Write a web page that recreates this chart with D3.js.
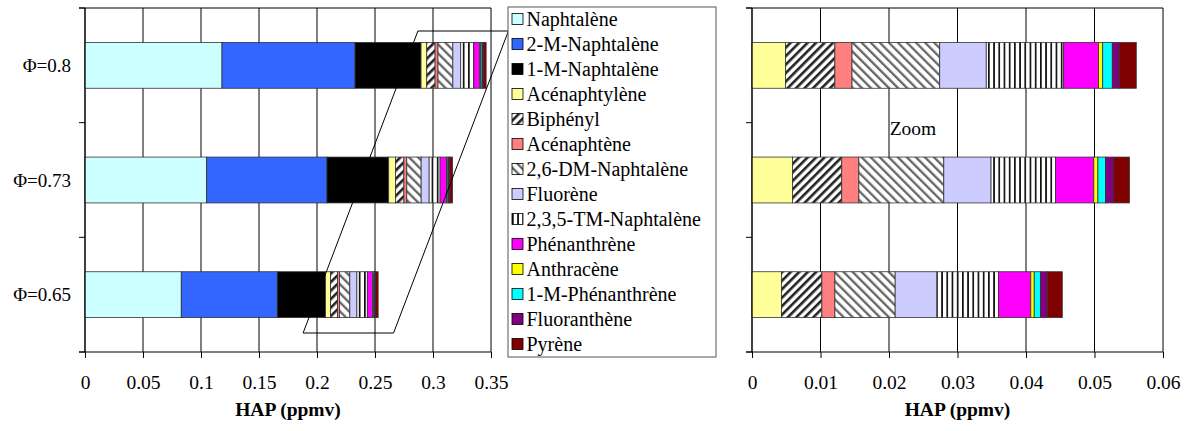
<!DOCTYPE html>
<html>
<head>
<meta charset="utf-8">
<script src="https://cdn.jsdelivr.net/npm/d3@7"></script>
<style>
  body { margin: 0; background: #fff; }
  svg text { font-family: "Liberation Serif", Tinos, "Times New Roman", Times, "DejaVu Serif", "Noto Serif", serif !important; fill: #000; }
</style>
</head>
<body>
<svg id="chart" width="1188" height="431"></svg>
<script>
// categories (top to bottom)
var categories = ["Φ=0.8", "Φ=0.73", "Φ=0.65"];

// HAP species, in stacking order
var species = ["Naphtalène", "2-M-Naphtalène", "1-M-Naphtalène", "Acénaphtylène", "Biphényl",
    "Acénaphtène", "2,6-DM-Naphtalène", "Fluorène", "2,3,5-TM-Naphtalène", "Phénanthrène",
    "Anthracène", "1-M-Phénanthrène", "Fluoranthène", "Pyrène"];

// values in ppmv, one array per category, same order as species
var phi080 = [0.1181, 0.1147, 0.0569, 0.0049, 0.0072, 0.0025, 0.0128, 0.0068, 0.0113, 0.0051, 0.0006, 0.0014, 0.0010, 0.0025];
var phi073 = [0.1049, 0.1037, 0.0532, 0.0059, 0.0072, 0.0025, 0.0124, 0.0069, 0.0094, 0.0056, 0.0006, 0.0011, 0.0012, 0.0023];
var phi065 = [0.0830, 0.0828, 0.0416, 0.0043, 0.0059, 0.0019, 0.0088, 0.0061, 0.0090, 0.0047, 0.0005, 0.0009, 0.0010, 0.0022];

var xTicksLeft = [0, 0.05, 0.1, 0.15, 0.2, 0.25, 0.3, 0.35];
var xTicksRight = [0, 0.01, 0.02, 0.03, 0.04, 0.05, 0.06];

// fills: plain colours, or pattern ids
var fills = ["#ccffff", "#3366ff", "#000000", "#ffff99", "url(#pBiph)", "#ff8080", "url(#pDM)",
    "#ccccff", "url(#pTM)", "#ff00ff", "#ffff00", "#00ffff", "#800080", "#800000"];

var rows = [phi080, phi073, phi065];

var svg = d3.select("#chart");

// patterns
var defs = svg.append("defs");
function stripes(id, w, sw, color, angle) {
    var p = defs.append("pattern")
        .attr("id", id)
        .attr("patternUnits", "userSpaceOnUse")
        .attr("width", w).attr("height", w)
        .attr("patternTransform", "rotate(" + angle + ")");
    p.append("rect").attr("width", w).attr("height", w).attr("fill", "#fff");
    p.append("rect").attr("width", sw).attr("height", w).attr("fill", color);
}
stripes("pBiph", 6, 2.6, "#222", 45);
stripes("pDM", 6.4, 2.3, "#666", -45);
stripes("pTM", 5.2, 1.7, "#111", 0);

// stacked segments for a given row, starting at species index "from"
function segments(row, from) {
    var out = [];
    var acc = 0;
    for (var i = from; i < row.length; i++) {
        out.push({ i: i, x0: acc, x1: acc + row[i] });
        acc += row[i];
    }
    return out;
}

function drawPanel(opt) {
    var x = d3.scaleLinear().domain(opt.domain).range([opt.left, opt.right]);
    var y = d3.scaleBand().domain(categories).range([opt.top, opt.bottom])
        .paddingInner(0.6).paddingOuter(0.3);

    var g = svg.append("g");

    // vertical gridlines
    g.selectAll(".grid")
        .data(opt.ticks)
        .enter().append("line")
        .attr("x1", function (d) { return x(d); })
        .attr("x2", function (d) { return x(d); })
        .attr("y1", opt.top).attr("y2", opt.bottom)
        .attr("stroke", "#000").attr("stroke-width", 1);

    // top border
    g.append("line")
        .attr("x1", opt.left - 6).attr("x2", opt.right)
        .attr("y1", opt.top).attr("y2", opt.top)
        .attr("stroke", "#000");

    // bars
    g.selectAll(".bar")
        .data(rows)
        .enter().append("g")
        .attr("transform", function (d, k) { return "translate(0," + y(categories[k]) + ")"; })
        .selectAll("rect")
        .data(function (d) { return segments(d, opt.from); })
        .enter().append("rect")
        .attr("x", function (d) { return x(d.x0); })
        .attr("width", function (d) { return x(d.x1) - x(d.x0); })
        .attr("height", y.bandwidth())
        .attr("fill", function (d) { return fills[d.i]; })
        .attr("stroke", "#333")
        .attr("stroke-width", 0.8);

    // x axis
    var xAxis = g.append("g")
        .attr("transform", "translate(0," + opt.bottom + ")")
        .call(d3.axisBottom(x).tickValues(opt.ticks).tickSize(6).tickPadding(17)
            .tickFormat(function (d) { return String(+d.toFixed(3)); }));
    xAxis.select(".domain").attr("d", "M" + (opt.left - 6) + ",0H" + opt.right).attr("stroke", "#000");
    xAxis.selectAll("text").style("font-size", "19.5px");

    // y axis: ticks on band boundaries
    var bounds = [opt.top];
    categories.forEach(function (c) { bounds.push(y(c) + y.bandwidth() + y.step() * 0.3); });
    g.selectAll(".ytick")
        .data(bounds)
        .enter().append("line")
        .attr("x1", opt.left - 6).attr("x2", opt.left)
        .attr("y1", function (d) { return d; }).attr("y2", function (d) { return d; })
        .attr("stroke", "#000");
    g.append("line")
        .attr("x1", opt.left).attr("x2", opt.left)
        .attr("y1", opt.top).attr("y2", opt.bottom)
        .attr("stroke", "#000");

    if (opt.labels) {
        g.selectAll(".ylab")
            .data(categories)
            .enter().append("text")
            .attr("x", opt.left - 14)
            .attr("y", function (d) { return y(d) + y.bandwidth() / 2; })
            .attr("dy", "0.35em")
            .attr("text-anchor", "end")
            .style("font-size", "19px")
            .text(function (d) { return d; });
    }

    // axis title
    g.append("text")
        .attr("x", (opt.left + opt.right) / 2)
        .attr("y", 416)
        .attr("text-anchor", "middle")
        .style("font-size", "19.5px")
        .style("font-weight", "bold")
        .text("HAP (ppmv)");

    return { x: x, y: y };
}

var left = drawPanel({ domain: [0, 0.35], ticks: xTicksLeft, left: 85, right: 491, top: 8, bottom: 352, from: 0, labels: true });
var right = drawPanel({ domain: [0, 0.06], ticks: xTicksRight, left: 752, right: 1163, top: 8, bottom: 352, from: 3, labels: false });

// zoom parallelogram (data coordinates of the left panel)
var zoomBox = [[0.287, 31], [0.365, 31], [0.266, 333], [0.188, 333]];
svg.append("path")
    .attr("d", d3.line()(zoomBox.map(function (p) { return [left.x(p[0]), p[1]]; })) + "Z")
    .attr("fill", "none")
    .attr("stroke", "#000")
    .attr("stroke-width", 1);

svg.append("text")
    .attr("x", right.x(0.0235))
    .attr("y", 128)
    .attr("dy", "0.35em")
    .attr("text-anchor", "middle")
    .style("font-size", "19.5px")
    .text("Zoom");

// legend
var lg = svg.append("g");
lg.append("rect")
    .attr("x", 508).attr("y", 7)
    .attr("width", 208).attr("height", 350)
    .attr("fill", "#fff")
    .attr("stroke", "#555").attr("stroke-width", 1);
var item = lg.selectAll(".item")
    .data(species)
    .enter().append("g")
    .attr("transform", function (d, i) { return "translate(512," + (19 + i * 25) + ")"; });
item.append("rect")
    .attr("x", 0).attr("y", -5.5)
    .attr("width", 11).attr("height", 11)
    .attr("fill", function (d, i) { return fills[i]; })
    .attr("stroke", "#000").attr("stroke-width", 0.8);
item.append("text")
    .attr("x", 14.5)
    .attr("dy", "0.35em")
    .style("font-size", "20px")
    .text(function (d) { return d; });
</script>
</body>
</html>
